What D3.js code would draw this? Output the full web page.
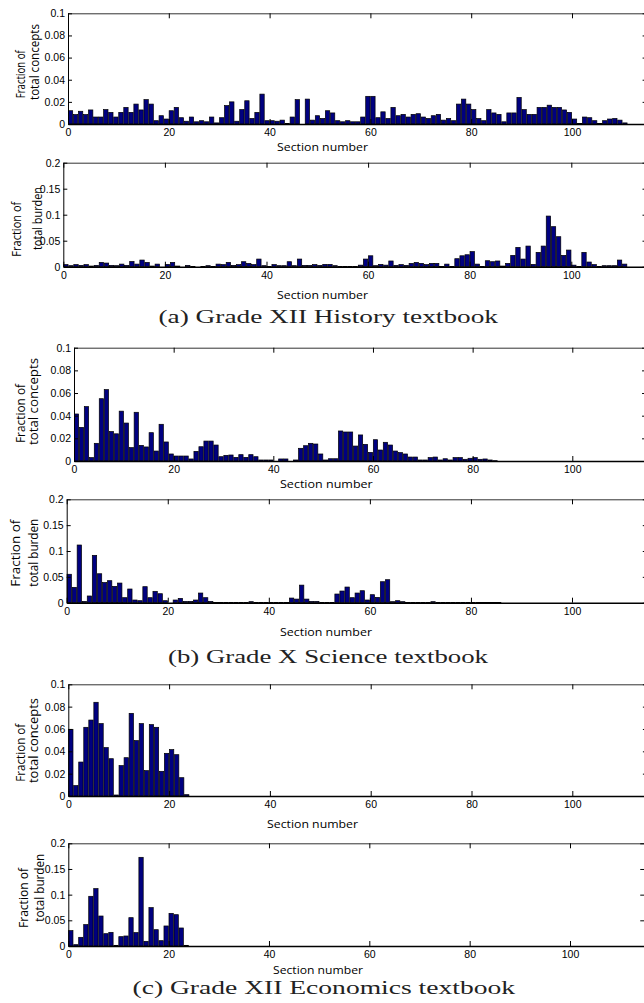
<!DOCTYPE html>
<html>
<head>
<meta charset="utf-8">
<script src="https://cdn.jsdelivr.net/npm/d3@7"></script>
<style>
    body { margin: 0; background: #fff; }
    svg { display: block; }
    .tick text { font-family: "Liberation Sans", Arial, sans-serif; font-size: 10.5px; fill: #000; }
    .axis-label { font-family: "Open Sans", sans-serif; fill: #000; }
    .caption { font-family: "Liberation Serif", serif; font-size: 19.5px; fill: #222; }
</style>
</head>
<body>
<div id="chart"></div>
<script>
// fraction per section
const historyConcepts = [
    0.012, 0.0085, 0.0115, 0.0085, 0.0127, 0.0063, 0.0063, 0.013, 0.0105, 0.0063,
    0.0105, 0.015, 0.0105, 0.018, 0.0127, 0.022, 0.018, 0.003, 0.0075, 0.0045,
    0.012, 0.015, 0.0057, 0.0025, 0.0063, 0.002, 0.003, 0.002, 0.0063, 0.001,
    0.0057, 0.0166, 0.02, 0.0025, 0.013, 0.021, 0.005, 0.0105, 0.027, 0.003,
    0.003, 0.0025, 0.0035, 0.0005, 0.0063, 0.022, 0, 0.0225, 0.0035, 0.0075,
    0.005, 0.012, 0.01, 0.003, 0.002, 0.003, 0.002, 0.002, 0.0063, 0.025,
    0.025, 0.0057, 0.011, 0.005, 0.015, 0.0075, 0.0087, 0.0063, 0.0087, 0.0093,
    0.0063, 0.005, 0.0075, 0.0087, 0.0035, 0.005, 0.003, 0.018, 0.0225, 0.018,
    0.013, 0.005, 0.003, 0.013, 0.01, 0.0087, 0.002, 0.01, 0.01, 0.024,
    0.013, 0.0087, 0.0087, 0.015, 0.015, 0.017, 0.015, 0.015, 0.0127, 0.0105,
    0.0045, 0.0005, 0.0063, 0.0057, 0.003, 0.0005, 0.003, 0.0045, 0.005, 0.0035,
    0.001
];
const historyBurden = [
    0.004, 0.002, 0.004, 0.0026, 0.004, 0.0013, 0.0026, 0.0083, 0.007, 0.0026,
    0.002, 0.005, 0.0026, 0.01, 0.005, 0.0128, 0.0083, 0.0013, 0.005, 0,
    0.0045, 0.0083, 0.0013, 0, 0.0026, 0.0006, 0, 0.0006, 0.002, 0.0006,
    0.005, 0.004, 0.0083, 0.0026, 0.004, 0.0096, 0.0064, 0.004, 0.0147, 0.002,
    0.0006, 0.004, 0.002, 0.002, 0.0096, 0.002, 0.0147, 0.0026, 0.0026, 0.004,
    0.0026, 0.0045, 0.0045, 0.002, 0.0006, 0.0006, 0.0006, 0.0006, 0.003, 0.0147,
    0.021, 0.002, 0.0045, 0.003, 0.011, 0.0026, 0.004, 0.0026, 0.0064, 0.0083,
    0.0064, 0.004, 0.0064, 0.0064, 0.0006, 0.005, 0.0006, 0.0154, 0.021, 0.023,
    0.029, 0.005, 0.0006, 0.0115, 0.0096, 0.011, 0.0013, 0.0064, 0.0218, 0.0372,
    0.0147, 0.0397, 0.0045, 0.0276, 0.0397, 0.0974, 0.077, 0.0577, 0.0218, 0.032,
    0.003, 0.0006, 0.0276, 0.009, 0.004, 0.0006, 0.002, 0.002, 0.002, 0.0128,
    0.005
];
const scienceConcepts = [
    0.0415, 0.0297, 0.048, 0.003, 0.0156, 0.055, 0.063, 0.026, 0.024, 0.044,
    0.0335, 0.0118, 0.043, 0.0138, 0.0124, 0.025, 0.0088, 0.0324, 0.0168, 0.0062,
    0.0044, 0.0044, 0.0044, 0.0018, 0.0085, 0.0126, 0.0176, 0.0176, 0.0141, 0.0038,
    0.005, 0.0053, 0.0032, 0.0056, 0.0032, 0.0056, 0.0038, 0.0009, 0.0009, 0.0009,
    0, 0.0018, 0.0018, 0, 0.0009, 0.0112, 0.0135, 0.0156, 0.015, 0.0062,
    0.0009, 0.002, 0.002, 0.0265, 0.0256, 0.0256, 0.0132, 0.023, 0.0147, 0.0076,
    0.0188, 0.0097, 0.0165, 0.0141, 0.0088, 0.0074, 0.0062, 0.0035, 0.0035, 0.0009,
    0.0009, 0.003, 0.0035, 0.0009, 0.002, 0.0009, 0.003, 0.003, 0.0015, 0.0024,
    0.003, 0.0015, 0.0018, 0.0009, 0.0003
];
const scienceBurden = [
    0.055, 0.0297, 0.1116, 0.0026, 0.013, 0.0916, 0.056, 0.039, 0.0426, 0.0316,
    0.038, 0.0097, 0.0265, 0.0052, 0.0039, 0.031, 0.0097, 0.022, 0.0174, 0.0039,
    0, 0.0052, 0.0084, 0.0026, 0.0026, 0.0052, 0.0187, 0.0097, 0.0026, 0.0006,
    0.0006, 0.0006, 0.0006, 0.0006, 0.0006, 0.0006, 0.002, 0.0003, 0.0003, 0.0003,
    0.0003, 0.0003, 0.0003, 0.0003, 0.009, 0.007, 0.034, 0.007, 0.0026, 0.0026,
    0.0005, 0.0005, 0.0005, 0.0168, 0.0226, 0.0303, 0.0097, 0.0187, 0.0232, 0.0052,
    0.0155, 0.0103, 0.0406, 0.0445, 0.002, 0.0039, 0.002, 0.0005, 0.0005, 0.0005,
    0.0005, 0.0005, 0.002, 0.0005, 0.0005, 0.0005, 0.0005, 0.0005, 0.0005, 0.0005,
    0.0005, 0.0005, 0.0005, 0.0005, 0.0005, 0.0005
];
const economicsConcepts = [
    0.0597, 0.0093, 0.0304, 0.0615, 0.068, 0.0839, 0.0648, 0.0433, 0.0334, 0.0009,
    0.0272, 0.0343, 0.074, 0.0496, 0.0648, 0.0227, 0.0639, 0.0615, 0.0221, 0.0382,
    0.0415, 0.037, 0.0164, 0.0012
];
const economicsBurden = [
    0.0299, 0.0026, 0.0169, 0.0416, 0.0968, 0.1117, 0.0584, 0.024, 0.0266, 0.0013,
    0.0182, 0.0195, 0.0552, 0.026, 0.1727, 0.0091, 0.0747, 0.0318, 0.0104, 0.039,
    0.0636, 0.061, 0.0351, 0.0013
];

const xTicks = [0, 20, 40, 60, 80, 100];
const conceptTicks = [0, 0.02, 0.04, 0.06, 0.08, 0.1];
const burdenTicks = [0, 0.05, 0.1, 0.15, 0.2];
const conceptLabel = ['Fraction of', 'total concepts'];
const burdenLabel = ['Fraction of', 'total burden'];
const xLabelText = 'Section number';
const captions = [
    '(a) Grade XII History textbook',
    '(b) Grade X Science textbook',
    '(c) Grade XII Economics textbook'
];

const xMax = 115;

// panel placement (each sub-figure sits a little differently)
const panels = [
    { data: historyConcepts, yMax: 0.1, ticks: conceptTicks, label: conceptLabel,
      left: 68, x100: 572, top: 13.3, bottom: 124,
      xlab: { x0: 277, x1: 368, y: 147 },
      ylab: [{ x: 25, y: 98.3, len: 48 }, { x: 39, y: 100, len: 76 }] },
    { data: historyBurden, yMax: 0.2, ticks: burdenTicks, label: burdenLabel,
      left: 63.3, x100: 571.3, top: 162.7, bottom: 266.7,
      xlab: { x0: 277, x1: 368, y: 295 },
      ylab: [{ x: 20.5, y: 256.7, len: 55 }, { x: 41.5, y: 250, len: 63 }] },
    { data: scienceConcepts, yMax: 0.1, ticks: conceptTicks, label: conceptLabel,
      left: 74, x100: 572.3, top: 347.7, bottom: 461,
      xlab: { x0: 280, x1: 372.7, y: 483.5 },
      ylab: [{ x: 25, y: 443, len: 59 }, { x: 38, y: 445, len: 87 }] },
    { data: scienceBurden, yMax: 0.2, ticks: burdenTicks, label: burdenLabel,
      left: 66.7, x100: 572, top: 499.3, bottom: 602.7,
      xlab: { x0: 280, x1: 372, y: 631.7 },
      ylab: [{ x: 20, y: 586.7, len: 67 }, { x: 38, y: 586.7, len: 68 }] },
    { data: economicsConcepts, yMax: 0.1, ticks: conceptTicks, label: conceptLabel,
      left: 68.3, x100: 572.3, top: 684.3, bottom: 796,
      xlab: { x0: 267, x1: 358, y: 824 },
      ylab: [{ x: 25, y: 781.7, len: 58 }, { x: 38, y: 783, len: 85 }] },
    { data: economicsBurden, yMax: 0.2, ticks: burdenTicks, label: burdenLabel,
      left: 68.3, x100: 570, top: 843.3, bottom: 946,
      xlab: { x0: 273, x1: 363, y: 969.5 },
      ylab: [{ x: 28, y: 928, len: 60 }, { x: 44, y: 921.7, len: 68 }] }
];

const captionPos = [
    { x0: 158.5, x1: 498, y: 323 },
    { x0: 168, x1: 488, y: 662.5 },
    { x0: 132.5, x1: 515, y: 994 }
];

const svg = d3.select('#chart').append('svg')
    .attr('width', 644)
    .attr('height', 1003);

function drawPanel(p) {
    const xEnd = p.left + (p.x100 - p.left) * xMax / 100;
    const x = d3.scaleLinear().domain([0, xMax]).range([p.left, xEnd]);
    const y = d3.scaleLinear().domain([0, p.yMax]).range([p.bottom, p.top]);

    const g = svg.append('g');

    g.selectAll('.bar')
        .data(p.data)
        .join('rect')
        .attr('class', 'bar')
        .attr('x', (d, i) => x(i + 0.07))
        .attr('width', (d, i) => x(i + 0.93) - x(i + 0.07))
        .attr('y', d => y(d))
        .attr('height', d => y(0) - y(d))
        .attr('fill', '#000080')
        .attr('stroke', '#000')
        .attr('stroke-width', 0.7);

    // top + right: ticks only
    g.append('g')
        .attr('transform', `translate(0,${p.top})`)
        .call(d3.axisTop(x).tickValues(xTicks).tickSizeInner(-5).tickSizeOuter(0).tickFormat(''))
        .call(a => a.select('.domain').attr('stroke', '#333'));

    g.append('g')
        .attr('transform', `translate(${xEnd},0)`)
        .call(d3.axisRight(y).tickValues(p.ticks).tickSizeInner(-5).tickSizeOuter(0).tickFormat(''));

    g.append('g')
        .attr('transform', `translate(0,${p.bottom})`)
        .call(d3.axisBottom(x).tickValues(xTicks).tickSizeInner(-5).tickSizeOuter(0)
            .tickPadding(5).tickFormat(d3.format('d')))
        .call(a => a.select('.domain').attr('stroke-width', 1.4));

    g.append('g')
        .attr('transform', `translate(${p.left},0)`)
        .call(d3.axisLeft(y).tickValues(p.ticks).tickSizeInner(-4).tickSizeOuter(0)
            .tickPadding(3).tickFormat(d => String(d)));

    g.append('text')
        .attr('class', 'axis-label')
        .attr('x', p.xlab.x0)
        .attr('y', p.xlab.y + 4)
        .attr('textLength', p.xlab.x1 - p.xlab.x0)
        .attr('lengthAdjust', 'spacingAndGlyphs')
        .style('font-size', '11px')
        .text(xLabelText);

    p.ylab.forEach((l, i) => {
        g.append('text')
            .attr('class', 'axis-label')
            .attr('transform', `translate(${l.x},${l.y}) rotate(-90)`)
            .attr('textLength', l.len)
            .attr('lengthAdjust', 'spacingAndGlyphs')
            .style('font-size', '13px')
            .text(p.label[i]);
    });
}

panels.forEach(drawPanel);

captions.forEach((c, i) => {
    const pos = captionPos[i];
    svg.append('text')
        .attr('class', 'caption')
        .attr('x', pos.x0)
        .attr('y', pos.y)
        .attr('textLength', pos.x1 - pos.x0)
        .attr('lengthAdjust', 'spacingAndGlyphs')
        .text(c);
});
</script>
</body>
</html>
